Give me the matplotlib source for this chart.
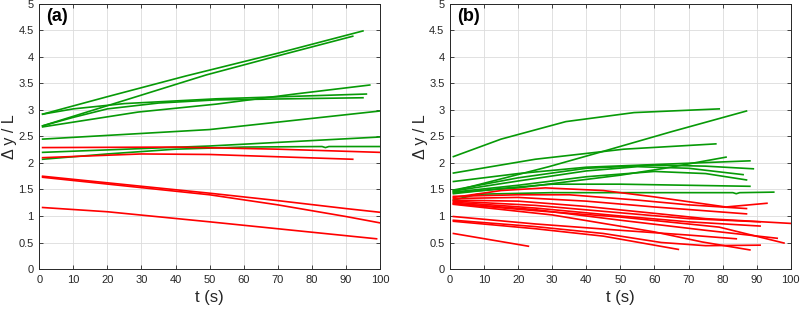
import matplotlib
matplotlib.use("Agg")
import matplotlib.pyplot as plt
import numpy as np

plt.rcParams['font.family'] = ['Liberation Sans', 'DejaVu Sans']

GREEN = '#079a07'
RED = '#ff0000'

# panel (a) - time (s) and dy/L
a_green_t = [
    [1, 20, 43, 70, 95],
    [1, 20, 49, 70, 92],
    [1, 10, 25, 52, 96],
    [1, 10, 20, 35, 52, 95],
    [1, 29, 52, 75, 97],
    [1, 50, 100],
    [1, 50, 100],
    [1, 20, 40, 60, 83, 84, 85, 100],
]
a_green_y = [
    [2.92, 3.25, 3.64, 4.07, 4.49],
    [2.70, 3.08, 3.66, 4.02, 4.39],
    [2.92, 3.02, 3.12, 3.21, 3.30],
    [2.70, 2.86, 3.02, 3.13, 3.19, 3.23],
    [2.68, 2.96, 3.11, 3.30, 3.47],
    [2.45, 2.63, 2.98],
    [2.20, 2.32, 2.49],
    [2.07, 2.17, 2.26, 2.30, 2.31, 2.29, 2.31, 2.31],
]
a_red_t = [
    [1, 40, 70, 100],
    [1, 30, 50, 92],
    [1, 50, 70, 90, 100],
    [1, 50, 70, 90, 100],
    [1, 20, 50, 99],
]
a_red_y = [
    [2.29, 2.30, 2.26, 2.20],
    [2.10, 2.17, 2.16, 2.07],
    [1.75, 1.43, 1.29, 1.14, 1.07],
    [1.73, 1.40, 1.21, 0.99, 0.87],
    [1.16, 1.08, 0.89, 0.57],
]

# panel (b)
b_green_t = [
    [1, 15, 34, 54, 79],
    [1, 15, 29, 45, 65, 87],
    [1, 25, 51, 78],
    [1, 20, 40, 60, 88],
    [1, 20, 40, 60, 75, 89],
    [1, 20, 40, 55, 70, 86],
    [1, 20, 40, 60, 75, 87],
    [1, 20, 35, 50, 63, 81],
    [1, 15, 30, 50, 88],
    [1, 8, 30, 60, 83, 84, 85, 95],
]
b_green_y = [
    [2.12, 2.45, 2.78, 2.95, 3.02],
    [1.47, 1.70, 1.93, 2.22, 2.59, 2.98],
    [1.81, 2.07, 2.26, 2.36],
    [1.65, 1.80, 1.92, 1.97, 2.04],
    [1.49, 1.72, 1.90, 1.96, 1.94, 1.89],
    [1.47, 1.66, 1.85, 1.93, 1.90, 1.78],
    [1.45, 1.58, 1.74, 1.84, 1.80, 1.68],
    [1.44, 1.53, 1.65, 1.77, 1.90, 2.11],
    [1.42, 1.52, 1.60, 1.60, 1.56],
    [1.30, 1.41, 1.44, 1.44, 1.44, 1.42, 1.44, 1.45],
]
b_red_t = [
    [1, 15, 28, 45, 60, 81, 93],
    [1, 20, 35, 55, 70, 87],
    [1, 20, 40, 60, 87],
    [1, 20, 40, 60, 75, 100],
    [1, 25, 50, 70, 91],
    [1, 25, 50, 70, 91],
    [1, 25, 50, 75, 96],
    [1, 25, 50, 79, 98],
    [1, 25, 50, 70, 84],
    [1, 25, 45, 62, 75, 91],
    [1, 25, 45, 67],
    [1, 23],
    [1, 30, 60, 74, 88],
]
b_red_y = [
    [1.35, 1.48, 1.53, 1.48, 1.36, 1.17, 1.24],
    [1.37, 1.40, 1.40, 1.30, 1.21, 1.14],
    [1.33, 1.35, 1.28, 1.17, 1.04],
    [1.30, 1.28, 1.18, 1.05, 0.95, 0.86],
    [1.28, 1.20, 1.06, 0.95, 0.89],
    [1.26, 1.15, 1.00, 0.89, 0.81],
    [1.24, 1.12, 0.92, 0.73, 0.58],
    [1.23, 1.10, 0.98, 0.79, 0.49],
    [0.99, 0.85, 0.73, 0.64, 0.57],
    [0.92, 0.80, 0.67, 0.50, 0.44, 0.45],
    [0.90, 0.76, 0.62, 0.37],
    [0.67, 0.43],
    [1.22, 1.02, 0.70, 0.51, 0.36],
]

x_ticks = np.arange(0, 101, 10)
y_ticks = np.arange(0, 5.01, 0.5)

fig = plt.figure(figsize=[8, 3.09], dpi=100)
ax_a = fig.add_axes([0.049, 0.1294, 0.426, 0.858])
ax_b = fig.add_axes([0.5625, 0.1294, 0.426, 0.858])


def style(ax, tag):
    ax.set_xlim(0, 100)
    ax.set_ylim(0, 5)
    ax.set_xticks(x_ticks)
    ax.set_yticks(y_ticks)
    ax.set_yticklabels([f"{v:g}" for v in y_ticks])
    ax.grid(True, color='#dcdcdc', lw=0.6)
    ax.set_axisbelow(True)
    ax.tick_params(direction='in', top=True, right=True, length=3,
                   width=0.6, labelsize=8, colors='#262626', pad=4)
    for s in ax.spines.values():
        s.set_color('#262626')
        s.set_linewidth(0.7)
    ax.set_xlabel('t (s)', fontsize=12, color='#262626', labelpad=4)
    ax.set_ylabel('Δ y / L', fontsize=11.5, color='#262626', va='center')
    ax.yaxis.set_label_coords(-0.088, 0.5)
    ax.text(0.02, 0.952, tag, transform=ax.transAxes, fontsize=13,
            fontweight='bold', ha='left', va='center', color='black')


def draw(ax, ts, ys, color):
    for t, y in zip(ts, ys):
        ax.plot(t, y, color=color, lw=1.2)


draw(ax_a, a_green_t, a_green_y, GREEN)
draw(ax_a, a_red_t, a_red_y, RED)
draw(ax_b, b_green_t, b_green_y, GREEN)
draw(ax_b, b_red_t, b_red_y, RED)

style(ax_a, '(a)')
style(ax_b, '(b)')

fig.savefig('out.png', dpi=100)
